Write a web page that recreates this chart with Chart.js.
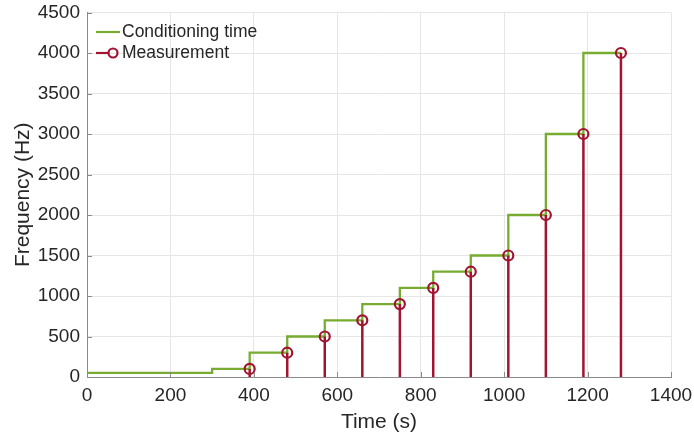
<!DOCTYPE html>
<html>
<head>
<meta charset="utf-8">
<script src="https://cdn.jsdelivr.net/npm/chart.js@4.4.1/dist/chart.umd.min.js"></script>
<style>
  html, body { margin: 0; padding: 0; background: #ffffff; }
  #wrap { width: 694px; height: 438px; }
</style>
</head>
<body>
<div id="wrap"><canvas id="c" width="694" height="438"></canvas></div>
<script>
// Conditioning schedule: level i is held from stepTimes[i] to stepTimes[i+1]
const stepTimes = [0, 300, 390, 480, 570, 660, 750, 830, 920, 1010, 1100, 1190, 1280];
const stepLevels = [50, 100, 300, 500, 700, 900, 1100, 1300, 1500, 2000, 3000, 4000];

// Measurement instants and the frequency measured at each
const measureTimes = [390, 480, 570, 660, 750, 830, 920, 1010, 1100, 1190, 1280];
const measureValues = [100, 300, 500, 700, 900, 1100, 1300, 1500, 2000, 3000, 4000];

// Axis ticks
const xTicks = [0, 200, 400, 600, 800, 1000, 1200, 1400];
const yTicks = [0, 500, 1000, 1500, 2000, 2500, 3000, 3500, 4000, 4500];

const GREEN = '#77AC30';
const RED = '#A2142F';
const AXIS = '#8a8a8a';
const GRID = '#e6e6e6';
const TEXT = '#262626';
const FONT = "'Liberation Sans', Arial, Helvetica, sans-serif";

// Staircase corners for the conditioning line
const stairPoints = [];
stepLevels.forEach((lvl, i) => {
  stairPoints.push({ x: stepTimes[i], y: lvl });
  stairPoints.push({ x: stepTimes[i + 1], y: lvl });
});

// Stems from zero to each measured value, separated by gaps
const stemPoints = [];
measureTimes.forEach((t, i) => {
  stemPoints.push({ x: t, y: 0 });
  stemPoints.push({ x: t, y: measureValues[i] });
  stemPoints.push({ x: t, y: null });
});

// Inward tick marks on the left and bottom axes
const innerTicks = {
  id: 'innerTicks',
  afterDraw(chart) {
    const { ctx, chartArea: a, scales: { x, y } } = chart;
    ctx.save();
    ctx.strokeStyle = AXIS;
    ctx.lineWidth = 1;
    ctx.beginPath();
    xTicks.forEach(v => {
      const px = Math.round(x.getPixelForValue(v)) + 0.5;
      ctx.moveTo(px, a.bottom);
      ctx.lineTo(px, a.bottom - 5);
    });
    yTicks.forEach(v => {
      const py = Math.round(y.getPixelForValue(v)) + 0.5;
      ctx.moveTo(a.left, py);
      ctx.lineTo(a.left + 5, py);
    });
    ctx.stroke();
    ctx.restore();
  }
};

// Legend drawn inside the upper-left corner of the plot
const insideLegend = {
  id: 'insideLegend',
  afterDraw(chart) {
    const { ctx } = chart;
    ctx.save();
    ctx.font = '17.5px ' + FONT;
    ctx.fillStyle = TEXT;
    ctx.textBaseline = 'middle';
    ctx.textAlign = 'left';

    ctx.strokeStyle = GREEN;
    ctx.lineWidth = 2.2;
    ctx.beginPath();
    ctx.moveTo(96, 32);
    ctx.lineTo(120, 32);
    ctx.stroke();
    ctx.fillText('Conditioning time', 122, 32);

    ctx.strokeStyle = RED;
    ctx.beginPath();
    ctx.moveTo(96, 53);
    ctx.lineTo(108, 53);
    ctx.stroke();
    ctx.beginPath();
    ctx.arc(113, 53, 4.5, 0, Math.PI * 2);
    ctx.stroke();
    ctx.fillText('Measurement', 122, 53);
    ctx.restore();
  }
};

new Chart(document.getElementById('c'), {
  type: 'scatter',
  data: {
    datasets: [
      {
        label: 'Conditioning time',
        data: stairPoints,
        showLine: true,
        borderColor: GREEN,
        borderWidth: 2.3,
        pointRadius: 0,
        order: 2
      },
      {
        label: 'Measurement',
        data: stemPoints,
        showLine: true,
        spanGaps: false,
        borderColor: RED,
        borderWidth: 2.5,
        backgroundColor: 'rgba(0,0,0,0)',
        pointBorderColor: RED,
        pointBorderWidth: 2.2,
        pointRadius: c => (c.raw && c.raw.y > 0 ? 5 : 0),
        pointHoverRadius: 0,
        order: 1
      }
    ]
  },
  options: {
    responsive: false,
    animation: false,
    layout: { padding: { left: 0, right: 23, top: 12.5, bottom: 0 } },
    plugins: {
      legend: { display: false },
      tooltip: { enabled: false }
    },
    scales: {
      x: {
        type: 'linear',
        min: 0,
        max: 1400,
        afterBuildTicks: s => { s.ticks = xTicks.map(v => ({ value: v })); },
        afterFit: s => { s.height = 61; s.paddingLeft = 0; s.paddingRight = 0; },
        grid: { color: GRID, drawTicks: false },
        border: { color: AXIS, width: 1 },
        ticks: {
          color: TEXT,
          padding: 7,
          maxRotation: 0,
          callback: v => String(v),
          font: { family: FONT, size: 19 }
        },
        title: {
          display: true,
          text: 'Time (s)',
          color: TEXT,
          font: { family: FONT, size: 21 },
          padding: { top: 0, bottom: 3 }
        }
      },
      y: {
        type: 'linear',
        min: 0,
        max: 4500,
        afterBuildTicks: s => { s.ticks = yTicks.map(v => ({ value: v })); },
        afterFit: s => { s.width = 87; s.paddingTop = 0; s.paddingBottom = 0; },
        grid: { color: GRID, drawTicks: false },
        border: { color: AXIS, width: 1 },
        ticks: {
          color: TEXT,
          padding: 7,
          callback: v => String(v),
          font: { family: FONT, size: 19 }
        },
        title: {
          display: true,
          text: 'Frequency (Hz)',
          color: TEXT,
          font: { family: FONT, size: 21 },
          padding: { top: 11, bottom: 0 }
        }
      }
    }
  },
  plugins: [innerTicks, insideLegend]
});
</script>
</body>
</html>
